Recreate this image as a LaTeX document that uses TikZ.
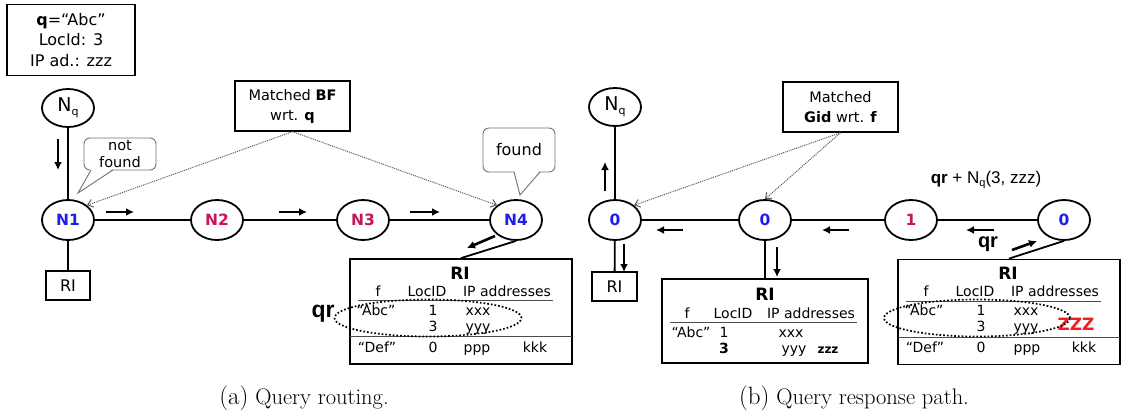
\documentclass[tikz,border=0pt]{standalone}
\usepackage{fontspec}
\newfontfamily\cf{DejaVu Sans}
\newfontfamily\af{Liberation Sans}
\usetikzlibrary{shapes.geometric,arrows.meta}
\definecolor{nblue}{RGB}{30,30,230}
\definecolor{nred}{RGB}{200,20,90}
\definecolor{zred}{RGB}{240,30,30}
\begin{document}
\begin{tikzpicture}[x=1pt,y=-1pt,
 nd/.style={ellipse,draw,line width=1.8pt,minimum width=52pt,minimum height=40pt,inner sep=0pt,font=\cf\bfseries\fontsize{15.5}{15.5}\selectfont},
 nq/.style={ellipse,draw,line width=1.8pt,minimum width=52pt,minimum height=38pt,inner sep=0pt,font=\cf\fontsize{19}{19}\selectfont},
 bx/.style={draw,line width=1.4pt,inner sep=0pt},
 ln/.style={line width=1.8pt},
 ar/.style={line width=2.6pt,-{Latex[length=8pt,width=8pt]}},
 dt/.style={densely dotted,line width=1pt,black!65,-{Straight Barb[length=5pt,width=8pt]}},
 tx/.style={inner sep=0pt,text height=10pt,text depth=3pt,font=\cf\fontsize{14}{14}\selectfont},
 hd/.style={inner sep=0pt,text height=10.5pt,text depth=3pt,font=\cf\fontsize{14}{14}\selectfont},
 co/.style={draw=black!55,fill=white,rounded corners=6pt,line width=0.9pt,align=center,inner sep=0pt,font=\cf\fontsize{14.5}{16.5}\selectfont},
 captxt/.style={inner sep=0pt,font=\fontsize{22.5}{22.5}\selectfont}]
\useasboundingbox (0,0) rectangle (1128,416);

% ================= (a) =================
\node[bx,line width=1.8pt,minimum width=128pt,minimum height=71pt,align=center,font=\cf\fontsize{16}{20.5}\selectfont] (qb) at (71,40) {\textbf{q}=“Abc”\\LocId: 3\\IP ad.: zzz};
\node[nq] (nqa) at (68,108) {N{\fontsize{11}{11}\selectfont\raisebox{-4pt}{q}}};
\node[nd,text=nblue] (n1) at (68,220) {N1};
\node[nd,text=nred] (n2) at (217,220) {N2};
\node[nd,text=nred] (n3) at (363,220) {N3};
\node[nd,text=nblue] (n4) at (516,220) {N4};
\node[bx,minimum width=44pt,minimum height=29pt,font=\cf\fontsize{16}{16}\selectfont] (ria) at (68,285.5) {RI};
\draw[ln] (nqa) -- (n1);
\draw[ln] (n1) -- (ria);
\draw[ln] (n1) -- (n2);
\draw[ln] (n2) -- (n3);
\draw[ln] (n3) -- (n4);

\coordinate (a1s) at (58,139); \coordinate (a1e) at (58,170);
\draw[ar] (a1s) -- (a1e);
\coordinate (a2s) at (106,212); \coordinate (a2e) at (134,212);
\draw[ar] (a2s) -- (a2e);
\coordinate (a3s) at (279,212); \coordinate (a3e) at (307,212);
\draw[ar] (a3s) -- (a3e);
\coordinate (a4s) at (410,212); \coordinate (a4e) at (440,212);
\draw[ar] (a4s) -- (a4e);

% callouts
\node[co,minimum width=72pt,minimum height=32pt] (nf) at (120,154) {not\\found};
\fill[white] (91,168) -- (78,193) -- (113,168) -- cycle;
\draw[black!55,line width=0.9pt] (91,170) -- (78,193) -- (113,170);
\node[co,minimum width=72pt,minimum height=44pt,font=\cf\fontsize{16}{16}\selectfont] (fd) at (519,150) {found};
\fill[white] (514,170) -- (520,195) -- (540,170) -- cycle;
\draw[black!55,line width=0.9pt] (514,172) -- (520,195) -- (540,172);

\node[bx,minimum width=115pt,minimum height=50pt,align=center,font=\cf\fontsize{14.5}{20}\selectfont] (bf) at (292.5,106) {Matched \textbf{BF}\\wrt. \textbf{q}};
\draw[dt] (bf.south) -- (n1.north east);
\draw[dt] (bf.south) -- (n4.north west);

% RI table (a)
\node[bx,line width=1.8pt,minimum width=222pt,minimum height=105pt] (rta) at (461,311.5) {};
\draw[ln] (n4.south) -- (rta.north);
\coordinate (a5s) at (495,236); \coordinate (a5e) at (467,248);
\draw[ar] (a5s) -- (a5e);
\node[hd,font=\cf\bfseries\fontsize{17}{17}\selectfont] (ta0) at (460,276) {RI};
\node[hd] (ta1) at (378,293) {f};
\node[hd] (ta2) at (427,293) {LocID};
\node[hd] (ta3) at (507,293) {IP addresses};
\draw[line width=1pt,black!70] (358,300.5) -- (553,300.5);
\node[tx] (ta4) at (376,312) {“Abc”};
\node[tx] (ta5) at (433,312) {1};
\node[tx] (ta6) at (478,312) {xxx};
\node[tx] (ta7) at (433,328) {3};
\node[tx] (ta8) at (478,328) {yyy};
\draw[line width=1pt,black!70] (350,336) -- (572,336);
\node[tx] (ta9) at (377,349) {“Def”};
\node[tx] (ta10) at (433,349) {0};
\node[tx] (ta11) at (477,349) {ppp};
\node[tx] (ta12) at (535,349) {kkk};
\node[ellipse,draw,dotted,line width=1.7pt,minimum width=187pt,minimum height=37pt,inner sep=0pt] (ova) at (428,318) {};
\node[inner sep=0pt,font=\af\bfseries\fontsize{23}{23}\selectfont] (qra) at (323,314) {qr};

\node[captxt] (capa) at (304,398) {{\fontsize{25}{25}\selectfont(a)} Query routing.};

% ================= (b) =================
\node[nq] (nqb) at (615,107) {N{\fontsize{11}{11}\selectfont\raisebox{-4pt}{q}}};
\node[nd,text=nblue] (b0) at (615,220) {0};
\node[nd,text=nblue] (b1) at (765,220) {0};
\node[nd,text=nred] (b2) at (911,220) {1};
\node[nd,text=nblue] (b3) at (1064,220) {0};
\node[bx,minimum width=45pt,minimum height=29pt,font=\cf\fontsize{16}{16}\selectfont] (rib) at (614.5,286.5) {RI};
\draw[ln] (nqb) -- (b0);
\draw[ln] (b0) -- (rib);
\draw[ln] (b0) -- (b1);
\draw[ln] (b1) -- (b2);
\draw[ln] (b2) -- (b3);

\coordinate (b1s) at (605,191); \coordinate (b1e) at (605,162);
\draw[ar] (b1s) -- (b1e);
\coordinate (b2s) at (624,244); \coordinate (b2e) at (624,272);
\draw[ar] (b2s) -- (b2e);
\coordinate (b3s) at (683,230); \coordinate (b3e) at (656,230);
\draw[ar] (b3s) -- (b3e);
\coordinate (b4s) at (849,230); \coordinate (b4e) at (822,230);
\draw[ar] (b4s) -- (b4e);
\coordinate (b5s) at (994,230); \coordinate (b5e) at (966,230);
\draw[ar] (b5s) -- (b5e);
\coordinate (b6s) at (777,247); \coordinate (b6e) at (777,277);
\draw[ar] (b6s) -- (b6e);
\coordinate (b7s) at (1012,250); \coordinate (b7e) at (1037,241);
\draw[ar] (b7s) -- (b7e);

\node[bx,minimum width=115pt,minimum height=50pt,align=center,font=\cf\fontsize{14.5}{20}\selectfont] (gid) at (840.5,107) {Matched\\\textbf{Gid} wrt. \textbf{f}};
\draw[dt] (gid.south) -- (b0.north east);
\draw[dt] (gid.south) -- (b1.north);

\node[inner sep=0pt,font=\af\fontsize{17}{17}\selectfont] (qrn) at (986,180) {\textbf{qr} + N{\fontsize{11}{11}\selectfont\raisebox{-3pt}{q}}(3, zzz)};
\node[inner sep=0pt,font=\af\bfseries\fontsize{20}{20}\selectfont] (qrb) at (988,244) {qr};

% middle RI table
\node[bx,line width=1.8pt,minimum width=206pt,minimum height=84pt] (rtb) at (765,321) {};
\draw[ln] (b1.south) -- (rtb.north);
\node[hd,font=\cf\bfseries\fontsize{17}{17}\selectfont] (tb0) at (765,297) {RI};
\node[hd] (tb1) at (687,315) {f};
\node[hd] (tb2) at (733,315) {LocID};
\node[hd] (tb3) at (811,315) {IP addresses};
\draw[line width=1pt,black!70] (670,322) -- (857,322);
\node[tx] (tb4) at (691,334) {“Abc”};
\node[tx] (tb5) at (724,334) {1};
\node[tx] (tb6) at (791,334) {xxx};
\node[tx,font=\cf\bfseries\fontsize{14}{14}\selectfont] (tb7) at (724,350) {3};
\node[tx] (tb8) at (794,350) {yyy};
\node[tx,font=\cf\bfseries\fontsize{12}{12}\selectfont] (tb9) at (828,350) {zzz};

% right RI table
\node[bx,line width=1.8pt,minimum width=222pt,minimum height=105pt] (rtc) at (1009,312) {};
\draw[ln] (b3.south) -- (rtc.north);
\node[hd,font=\cf\bfseries\fontsize{17}{17}\selectfont] (tc0) at (1008,276) {RI};
\node[hd] (tc1) at (926,293) {f};
\node[hd] (tc2) at (975,293) {LocID};
\node[hd] (tc3) at (1055,293) {IP addresses};
\draw[line width=1pt,black!70] (906,301) -- (1101,301);
\node[tx] (tc4) at (924,312) {“Abc”};
\node[tx] (tc5) at (981,312) {1};
\node[tx] (tc6) at (1026,312) {xxx};
\node[tx] (tc7) at (981,328) {3};
\node[tx] (tc8) at (1026,328) {yyy};
\node[tx,text=zred,font=\cf\bfseries\fontsize{17}{17}\selectfont] (tc13) at (1076,327) {ZZZ};
\draw[line width=1pt,black!70] (898,337) -- (1120,337);
\node[tx] (tc9) at (925,349) {“Def”};
\node[tx] (tc10) at (981,349) {0};
\node[tx] (tc11) at (1027,349) {ppp};
\node[tx] (tc12) at (1084,349) {kkk};
\node[ellipse,draw,dotted,line width=1.7pt,minimum width=186pt,minimum height=37pt,inner sep=0pt] (ovb) at (977,318) {};

\node[captxt] (capb) at (854,398) {{\fontsize{25}{25}\selectfont(b)} Query response path.};
\end{tikzpicture}
\end{document}
